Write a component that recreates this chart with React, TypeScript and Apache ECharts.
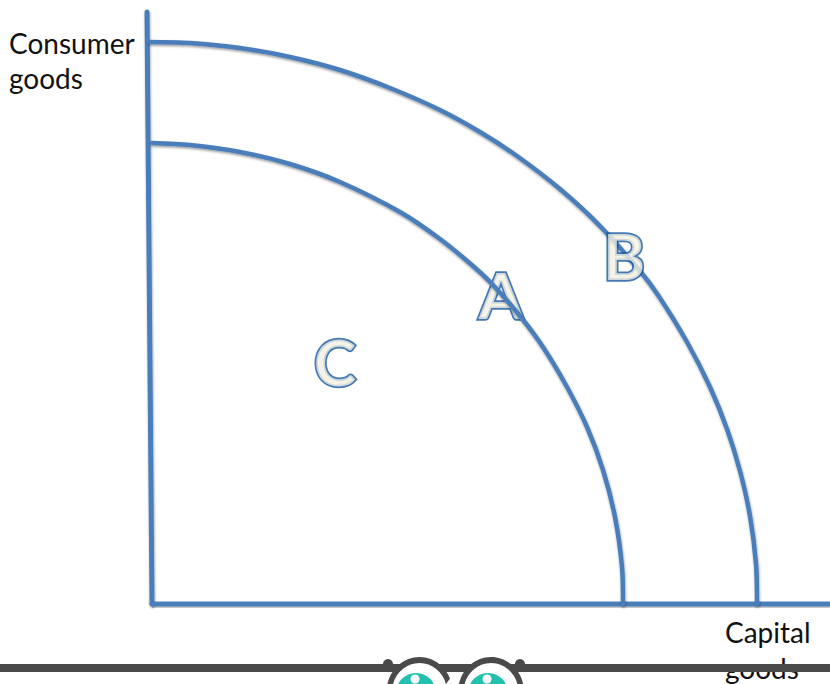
import React, { useEffect, useRef } from "react";
import * as echarts from "echarts";

const outerCurve = [[-2,562],[38,561],[88,556],[138,547],[188,534],[238,516],[288,494],[328,472],[365,448],[408,415],[448,378],[488,333],[506,309],[535,262],[558,217],[575,175],[588,133],[598,88],[604,40],[605,0]];
const innerCurve = [[0,461],[38,459],[88,452],[138,440],[188,422],[248,392],[288,365],[321,338],[341,319],[368,288],[391,257],[415,217],[435,177],[451,134],[463,87],[470,37],[471,0]];
const xAxisLine = [[0,0],[678,0]];
const xAxisShade = [[0,-3],[678,-3]];
const yAxisLine = [[0,0],[-5,592]];
const yLabel = ["Consumer", "goods"];
const xLabel = ["Capital", "goods"];
const pointLabels = [
  { name: "A", at: [349, 310] },
  { name: "B", at: [472, 349] },
  { name: "C", at: [183, 243] },
];

const BLUE = "#4a7ebb";
const DARK = "#4a4a4a";
const TEAL = "#22c1ae";
const FONT = "Lato, 'Open Sans', sans-serif";
const SHADOW = { shadowColor: "rgba(0,0,0,0.4)", shadowBlur: 2, shadowOffsetY: 1.5, shadowOffsetX: 0.5 };

function line(name: string, data: number[][], smooth: boolean | number, z: number, width = 4.5, shadow = true) {
  return {
    type: "line", name, data, smooth, symbol: "none", silent: true, z,
    lineStyle: { color: BLUE, width, cap: "round", ...(shadow ? SHADOW : {}) },
  };
}

const letterLabel = {
  show: true, position: "inside", formatter: "{b}", fontFamily: FONT, fontWeight: "bold", fontSize: 64,
  color: "#f4f0e4", textBorderColor: "#15569f", textBorderWidth: 3.5,
};

function App() {
  const ref = useRef<HTMLDivElement>(null);
  useEffect(() => {
    const chart = echarts.init(ref.current!, undefined, { renderer: "svg" });
    const lens = (cx: number, eyeX: number) => [
      { type: "ellipse", z: 20, shape: { cx, cy: 692, rx: 33, ry: 35 }, style: { fill: DARK } },
      { type: "ellipse", z: 21, shape: { cx, cy: 692, rx: 27.5, ry: 29 }, style: { fill: "#ffffff" } },
      { type: "circle", z: 22, shape: { cx: eyeX, cy: 693, r: 20 }, style: { fill: TEAL } },
      { type: "circle", z: 23, shape: { cx: eyeX - 1, cy: 679, r: 4.5 }, style: { fill: "#ffffff" } },
    ];
    chart.setOption({
      animation: false,
      backgroundColor: "#ffffff",
      grid: { left: 0, right: 0, top: 0, bottom: 0 },
      xAxis: { type: "value", min: -152, max: 678, show: false },
      yAxis: { type: "value", min: -80, max: 604, show: false },
      series: [
        {
          type: "line", name: "x axis shade", data: xAxisShade, symbol: "none", silent: true, z: 1,
          lineStyle: { color: "rgba(0,0,0,0.22)", width: 2 },
        },
        line("y axis", yAxisLine, false, 3, 5),
        line("x axis", xAxisLine, false, 3, 5, false),
        line("outer", outerCurve, 0.3, 3),
        line("inner", innerCurve, 0.3, 3),
        {
          type: "scatter", name: "A label", symbolSize: 0, silent: true, z: 2,
          data: pointLabels.slice(0, 1).map((p) => ({ value: p.at, name: p.name })),
          label: letterLabel,
        },
        {
          type: "scatter", name: "B C labels", symbolSize: 0, silent: true, z: 5,
          data: pointLabels.slice(1).map((p) => ({ value: p.at, name: p.name })),
          label: letterLabel,
        },
      ],
      graphic: [
        { type: "text", z: 10, x: 9, y: 29, style: { text: yLabel[0], font: `28px ${FONT}`, fill: "#111" } },
        { type: "text", z: 10, x: 9, y: 64, style: { text: yLabel[1], font: `28px ${FONT}`, fill: "#111" } },
        { type: "text", z: 10, x: 725, y: 618, style: { text: xLabel[0], font: `28px ${FONT}`, fill: "#111" } },
        { type: "text", z: 10, x: 725, y: 654, style: { text: xLabel[1], font: `28px ${FONT}`, fill: "#111" } },
        { type: "rect", z: 15, shape: { x: 0, y: 664, width: 830, height: 8 }, style: { fill: DARK } },
        { type: "circle", z: 16, shape: { cx: 388, cy: 664, r: 5 }, style: { fill: DARK } },
        { type: "circle", z: 16, shape: { cx: 520, cy: 664, r: 5 }, style: { fill: DARK } },
        ...lens(419.5, 416),
        ...lens(491, 488),
        { type: "polygon", z: 24, shape: { points: [[446, 684], [452, 676], [458, 684]] }, style: { fill: "#ffffff" } },
      ],
    });
    return () => chart.dispose();
  }, []);
  return <div ref={ref} style={{ position: "fixed", left: 0, top: 0, width: 830, height: 684 }} />;
}

export default App;
